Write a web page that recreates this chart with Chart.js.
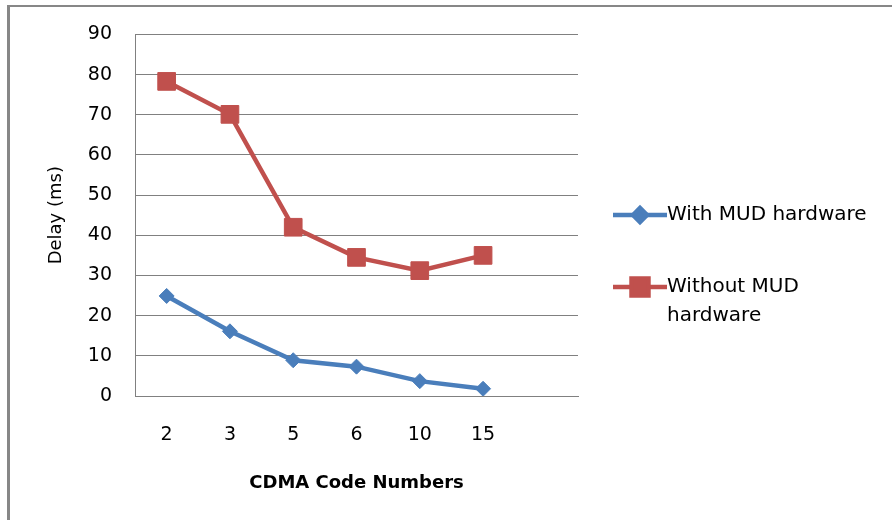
<!DOCTYPE html>
<html>
<head>
<meta charset="utf-8">
<title>Delay vs CDMA code numbers</title>
<script src="https://cdn.jsdelivr.net/npm/chart.js@4.4.0/dist/chart.umd.min.js"></script>
<style>
  html, body { margin: 0; padding: 0; background: #fff; }
  #wrap { position: relative; width: 892px; height: 520px; overflow: hidden; }
  #frame {
    position: absolute; left: 7px; top: 5px; right: -10px; bottom: -10px;
    border-left: 3px solid #878787; border-top: 2px solid #878787;
  }
  #chart { position: absolute; left: 0; top: 0; }
</style>
</head>
<body>
<div id="wrap">
  <div id="frame"></div>
  <canvas id="chart" width="892" height="520"></canvas>
</div>
<script>
// x categories (last slot is an empty category, as in the sheet)
const codeNumbers = ['2', '3', '5', '6', '10', '15', ''];
// delay in ms
const withMud = [24.9, 16.1, 8.9, 7.3, 3.7, 1.8, null];
const withoutMud = [78.3, 70.1, 42.0, 34.5, 31.2, 35.0, null];
const seriesNames = ['With MUD hardware', 'Without MUD hardware'];
const delayTicks = [0, 10, 20, 30, 40, 50, 60, 70, 80, 90];

const FONT = 'DejaVu Sans';
const BLUE = '#4A7EBB';
const RED = '#C0504D';
const GRID = '#808080';

// legend drawn at the right, with word wrapping like the spreadsheet legend
const sideLegend = {
  id: 'sideLegend',
  afterDraw(chart) {
    const ctx = chart.ctx;
    const rows = [215, 287];
    const maxW = 215;
    ctx.save();
    ctx.font = '20px "' + FONT + '"';
    ctx.textBaseline = 'middle';
    chart.data.datasets.forEach((ds, i) => {
      const y = rows[i];
      ctx.strokeStyle = ds.borderColor;
      ctx.lineWidth = ds.borderWidth;
      ctx.beginPath();
      ctx.moveTo(613, y);
      ctx.lineTo(667, y);
      ctx.stroke();
      ctx.fillStyle = ds.pointBackgroundColor;
      ctx.strokeStyle = ds.pointBorderColor;
      Chart.helpers.drawPoint(ctx, {
        pointStyle: ds.pointStyle,
        radius: ds.legendRadius,
        rotation: 0,
        borderWidth: 1
      }, 640, y);

      // wrap label words
      const words = ds.label.split(' ');
      const lines = [];
      let cur = '';
      words.forEach(w => {
        const test = cur ? cur + ' ' + w : w;
        if (cur && ctx.measureText(test).width > maxW) {
          lines.push(cur);
          cur = w;
        } else {
          cur = test;
        }
      });
      lines.push(cur);
      ctx.fillStyle = '#000';
      lines.forEach((ln, k) => ctx.fillText(ln, 667, y + k * 29));
    });
    ctx.restore();
  }
};

new Chart(document.getElementById('chart'), {
  type: 'line',
  data: {
    labels: codeNumbers,
    datasets: [{
      label: seriesNames[0],
      data: withMud,
      borderColor: BLUE,
      borderWidth: 4.5,
      pointStyle: 'rectRot',
      pointRadius: 7.5,
      legendRadius: 7,
      pointBackgroundColor: BLUE,
      pointBorderColor: BLUE,
      pointBorderWidth: 1,
      tension: 0
    }, {
      label: seriesNames[1],
      data: withoutMud,
      borderColor: RED,
      borderWidth: 4.5,
      pointStyle: 'rect',
      pointRadius: 12.5,
      legendRadius: 12,
      pointBackgroundColor: RED,
      pointBorderColor: RED,
      pointBorderWidth: 1,
      tension: 0
    }]
  },
  options: {
    responsive: false,
    animation: false,
    devicePixelRatio: 1,
    layout: { padding: { left: 46, right: 314, top: 33, bottom: 26 } },
    plugins: {
      legend: { display: false },
      tooltip: { enabled: false }
    },
    scales: {
      x: {
        offset: true,
        afterFit: s => { s.height = 98; },
        grid: { display: false, drawTicks: false },
        border: { color: GRID, width: 1 },
        ticks: { padding: 28, color: '#000', font: { family: FONT, size: 19 } },
        title: {
          display: true, text: 'CDMA Code Numbers', padding: 0, color: '#000',
          font: { family: FONT, size: 18, weight: 'bold' }
        }
      },
      y: {
        min: delayTicks[0],
        max: delayTicks[delayTicks.length - 1],
        afterBuildTicks: s => { s.ticks = delayTicks.map(v => ({ value: v })); },
        afterFit: s => { s.width = 89; },
        grid: { color: GRID, lineWidth: 1, drawTicks: false },
        border: { color: GRID, width: 1 },
        ticks: { padding: 23, color: '#000', font: { family: FONT, size: 19 } },
        title: {
          display: true, text: 'Delay (ms)', padding: 0, color: '#000',
          font: { family: FONT, size: 18 }
        }
      }
    }
  },
  plugins: [sideLegend]
});
</script>
</body>
</html>
